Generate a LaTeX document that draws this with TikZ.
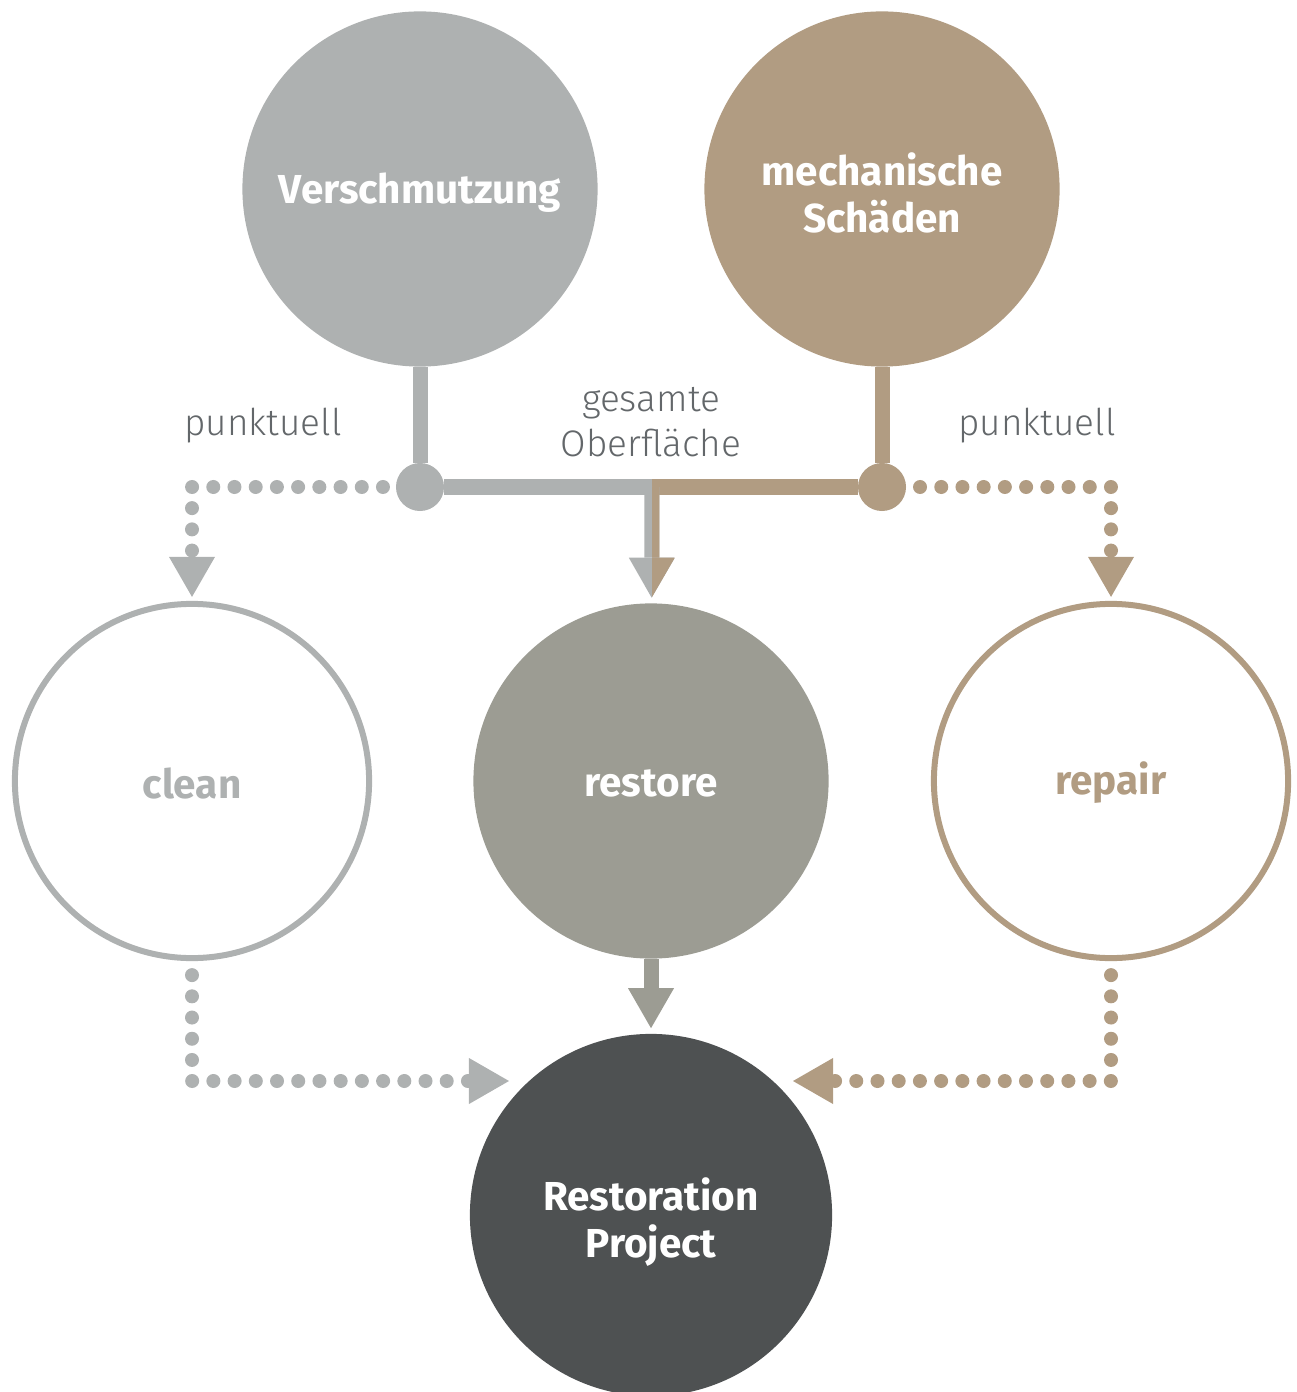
\documentclass[tikz,border=0pt]{standalone}
\usepackage{fontspec}
\setmainfont{Fira Sans}
\newfontfamily\thinfont{Fira Sans Light}
\usetikzlibrary{arrows.meta}

\definecolor{dirt}{HTML}{AEB1B1}
\definecolor{damage}{HTML}{B19C82}
\definecolor{restorecol}{HTML}{9C9C93}
\definecolor{projectcol}{HTML}{4E5152}
\definecolor{labelcol}{HTML}{63676A}

\begin{document}
\begin{tikzpicture}[
	x=0.01cm, y=-0.01cm,
	cause/.style = {circle, fill=#1, minimum size=3.55cm, inner sep=0pt},
	task/.style = {circle, draw=#1, line width=0.06cm, minimum size=3.54cm, inner sep=0pt},
	cap/.style = {text=#1, align=center, font=\bfseries\fontsize{11.5}{13.2}\selectfont},
	hub/.style = {circle, fill=#1, minimum size=0.48cm, inner sep=0pt, outer sep=0pt},
	lbl/.style = {text=labelcol, align=center, font=\thinfont\fontsize{10.5}{13}\selectfont},
	bar/.style = {draw=#1, line width=0.15cm},
	flow/.style = {draw=#1, line width=0.15cm, shorten >=0.05cm,
		-{Triangle[width=0.46cm, length=0.40cm, line width=0pt]}},
	hop/.style = {draw=#1, line width=0.14cm, line cap=round, dash pattern=on 0pt off 0.212cm,
		shorten >=0.04cm, -{Triangle[width=0.46cm, length=0.40cm, line width=0pt]}}
	]
	\useasboundingbox (0,0) rectangle (1296,1392);

	%Circles
	\node[cause=dirt]		(dirt)		at	(420, 189)	{};
	\node[cause=damage]		(damage)	at	(882, 189)	{};
	\node[task=dirt]		(clean)		at	(192, 781)	{};
	\node[cause=restorecol]	(restore)	at	(651, 781)	{};
	\node[task=damage]		(repair)	at	(1111, 781)	{};
	\node[cause=projectcol, minimum size=3.62cm]	(project)	at	(651, 1215)	{};

	%Texts
	\node[cap=white]	(dirtT)		at	(420, 193)	{Verschmutzung};
	\node[cap=white]	(damageT)	at	(882, 193)	{mechanische\\Schäden};
	\node[cap=dirt]		(cleanT)	at	(192, 783)	{clean};
	\node[cap=white]	(restoreT)	at	(651, 783)	{restore};
	\node[cap=damage]	(repairT)	at	(1111, 783)	{repair};
	\node[cap=white]	(projectT)	at	(651, 1222)	{Restoration\\Project};

	\node[lbl]	(pL)	at	(263, 426)	{punktuell};
	\node[lbl]	(pR)	at	(1037, 426)	{punktuell};
	\node[lbl]	(all)	at	(651, 422)	{gesamte\\Oberfläche};

	%Junctions
	\node[hub=dirt]			(hubL)		at	(420, 487)	{};
	\node[hub=damage]		(hubR)		at	(882, 487)	{};
	\coordinate			(split)		at	(652, 487);
	\coordinate			(inL)		at	(513, 1081);
	\coordinate			(inR)		at	(789, 1081);

	%Lines
	\draw[bar=dirt]		(dirt)		--	(hubL);
	\draw[bar=damage]	(damage)	--	(hubR);
	\draw[bar=dirt]		(hubL)		--	(split);
	\draw[bar=damage]	(hubR)		--	(split);
	\draw[flow=dirt]	(split)		--	(restore);
	\begin{scope}
		\clip (652, 470) rectangle (720, 620);
		\draw[flow=damage]	(split)	--	(restore);
	\end{scope}
	\draw[flow=restorecol]	(restore)	--	(project);

	\draw[hop=dirt, shorten <=0.13cm]	(hubL.west)	-|	(clean);
	\draw[hop=damage, shorten <=0.14cm]	(hubR.east)	-|	(repair);
	\draw[hop=dirt, shorten <=0.14cm]	(clean.south)	|-	(inL);
	\draw[hop=damage, shorten <=0.14cm]	(repair.south)	|-	(inR);
\end{tikzpicture}
\end{document}
